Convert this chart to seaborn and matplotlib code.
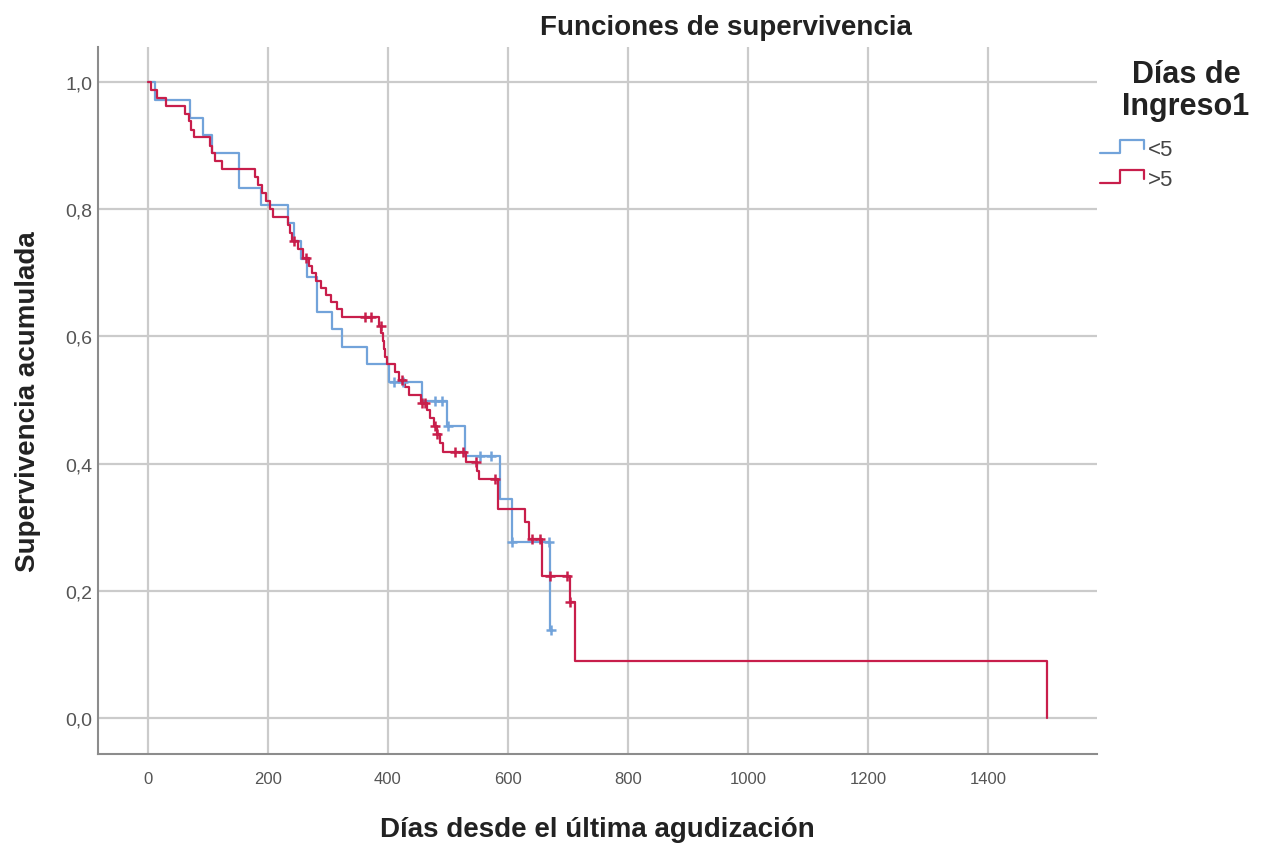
import numpy as np
import pandas as pd
import matplotlib
matplotlib.use("Agg")
import matplotlib.pyplot as plt
from matplotlib.lines import Line2D
from matplotlib.legend_handler import HandlerBase
from matplotlib.ticker import FuncFormatter
import seaborn as sns

# ---- data (Kaplan-Meier step curves) ----
groups = ["<5", ">5"]

blue_t = [0, 12, 70, 92, 107, 152, 188, 233, 243, 255, 265, 282, 307, 323, 365,
          402, 457, 498, 528, 587, 607, 670, 672]
blue_s = [1.0, 0.972, 0.944, 0.917, 0.889, 0.833, 0.806, 0.778, 0.750, 0.722,
          0.694, 0.639, 0.611, 0.583, 0.556, 0.528, 0.498, 0.459, 0.412, 0.344,
          0.277, 0.139, 0.139]
blue_censor = [410, 425, 478, 490, 500, 553, 572, 607, 668, 672]

red_t = [0, 5, 15, 30, 62, 68, 72, 76, 103, 106, 112, 123, 178, 183, 190, 196,
         203, 208, 233, 237, 240, 250, 258, 268, 273, 280, 288, 296, 305, 315,
         323, 385, 389, 391, 393, 395, 398, 412, 418, 428, 435, 455, 465, 470,
         476, 481, 487, 492, 530, 548, 552, 583, 628, 635, 657, 703, 712, 1498]
red_s = [1.0, 0.988, 0.975, 0.963, 0.950, 0.938, 0.925, 0.913, 0.900, 0.888,
         0.875, 0.863, 0.850, 0.838, 0.825, 0.813, 0.800, 0.788, 0.775, 0.763,
         0.750, 0.737, 0.724, 0.711, 0.699, 0.687, 0.676, 0.665, 0.654, 0.643,
         0.630, 0.617, 0.605, 0.593, 0.580, 0.568, 0.556, 0.544, 0.532, 0.520,
         0.508, 0.496, 0.484, 0.471, 0.459, 0.446, 0.432, 0.418, 0.402, 0.388,
         0.375, 0.329, 0.308, 0.281, 0.223, 0.182, 0.090, 0.0]
red_censor = [243, 263, 362, 372, 388, 423, 457, 462, 478, 482, 512, 525, 546,
              578, 640, 653, 670, 698, 703]

x_ticks = [0, 200, 400, 600, 800, 1000, 1200, 1400]
y_ticks = [0.0, 0.2, 0.4, 0.6, 0.8, 1.0]

colors = {"<5": "#72a3da", ">5": "#c81e4b"}

# ---- build long-form tables ----
curves = pd.concat([
    pd.DataFrame({"t": blue_t, "s": blue_s, "g": "<5"}),
    pd.DataFrame({"t": red_t, "s": red_s, "g": ">5"}),
], ignore_index=True)


def surv_at(ts, ss, c):
    idx = np.searchsorted(np.asarray(ts), np.asarray(c), side="right") - 1
    return np.asarray(ss)[idx]


cens = pd.concat([
    pd.DataFrame({"t": blue_censor, "s": surv_at(blue_t, blue_s, blue_censor), "g": "<5"}),
    pd.DataFrame({"t": red_censor, "s": surv_at(red_t, red_s, red_censor), "g": ">5"}),
], ignore_index=True)

sns.set_theme(style="white")
plt.rcParams["font.family"] = ["Liberation Sans", "DejaVu Sans"]

fig = plt.figure(figsize=(12.61, 8.45), dpi=100)
ax = fig.add_axes([98 / 1261, 1 - 755 / 845, 999 / 1261, 707 / 845])

for g in groups:
    sub = curves[curves.g == g]
    sns.lineplot(data=sub, x="t", y="s", color=colors[g], drawstyle="steps-post",
                 estimator=None, sort=False, linewidth=1.6, ax=ax, legend=False)
    csub = cens[cens.g == g]
    sns.scatterplot(data=csub, x="t", y="s", color=colors[g], marker="+",
                    s=60, linewidth=1.8, ax=ax, legend=False, zorder=3)

ax.set_xlim(-83.3, 1581.7)
ax.set_ylim(-0.0566, 1.055)
ax.set_xticks(x_ticks)
ax.set_yticks(y_ticks)
ax.yaxis.set_major_formatter(FuncFormatter(lambda v, p: f"{v:.1f}".replace(".", ",")))
ax.grid(True, color="#cbcbcb", linewidth=1.6)
ax.set_axisbelow(True)
for side in ["top", "right"]:
    ax.spines[side].set_visible(False)
for side in ["left", "bottom"]:
    ax.spines[side].set_color("#8c8c8c")
    ax.spines[side].set_linewidth(1.5)
ax.tick_params(axis="both", length=0, labelcolor="#555555")
ax.tick_params(axis="x", pad=12, labelsize=12)
ax.tick_params(axis="y", pad=4, labelsize=14)

ax.set_xlabel("Días desde el última agudización", fontsize=20, fontweight="bold",
              color="#222222")
ax.set_ylabel("Supervivencia acumulada", fontsize=20, fontweight="bold",
              color="#222222")
ax.xaxis.set_label_coords(0.5, -0.087)
ax.yaxis.set_label_coords(-0.057, 0.5)

fig.text(726 / 1261, 1 - 28 / 845, "Funciones de supervivencia", ha="center",
         va="center", fontsize=20, fontweight="bold", color="#222222")

# legend title (centered two-line block, as in the reference)
fig.text(1186 / 1261, 1 - 91 / 845, "Días de\nIngreso1", ha="center",
         va="center", multialignment="center", fontsize=22, fontweight="bold",
         color="#222222", linespacing=1.05)


class StepHandler(HandlerBase):
    def create_artists(self, legend, orig_handle, xdescent, ydescent, width,
                       height, fontsize, trans):
        x0, y0 = -xdescent, -ydescent
        xs = [x0, x0 + 0.45 * width, x0 + 0.45 * width, x0 + width, x0 + width]
        ys = [y0 + 0.1 * height, y0 + 0.1 * height, y0 + 0.95 * height,
              y0 + 0.95 * height, y0 + 0.4 * height]
        ln = Line2D(xs, ys, color=orig_handle.get_color(),
                    linewidth=orig_handle.get_linewidth())
        ln.set_transform(trans)
        return [ln]


handles = [Line2D([], [], color=colors[g], linewidth=1.6) for g in groups]
leg = ax.legend(handles, groups, loc="upper left",
                bbox_to_anchor=(1.003, 0.870), frameon=False, fontsize=16,
                handler_map={Line2D: StepHandler()}, handlelength=2.0,
                handletextpad=0.15, labelspacing=0.4, borderpad=0.0,
                borderaxespad=0.0)
for t in leg.get_texts():
    t.set_color("#444444")

fig.savefig("out.png", dpi=100)
